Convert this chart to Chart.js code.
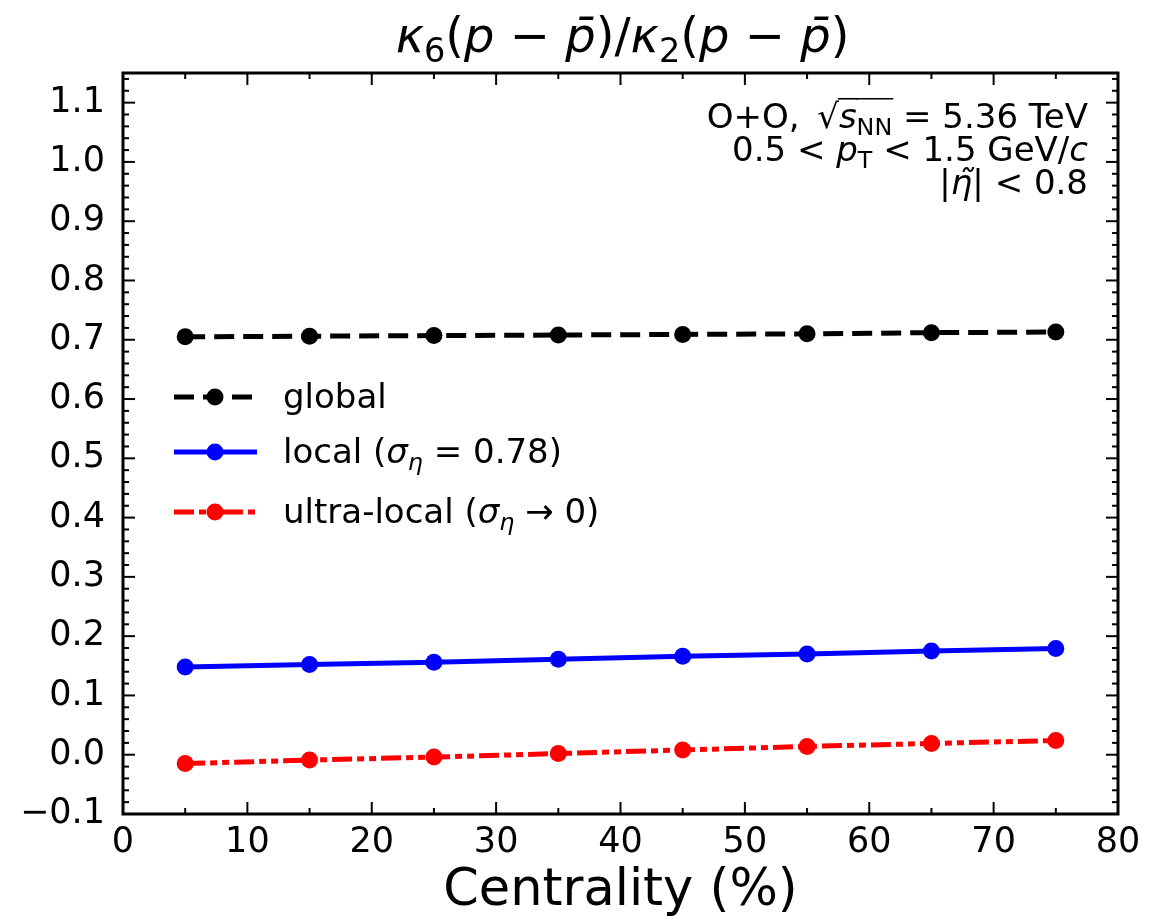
<!DOCTYPE html>
<html>
<head>
<meta charset="utf-8">
<script src="https://cdn.jsdelivr.net/npm/chart.js@4.4.1/dist/chart.umd.min.js"></script>
<style>
  html, body { margin: 0; padding: 0; background: #fff; }
  canvas { display: block; }
</style>
</head>
<body>
<canvas id="cumulantChart" width="1170" height="917"></canvas>
<script>
// centrality bins (%)
const centrality = [5, 15, 25, 35, 45, 55, 65, 75];
const globalVals = [0.705, 0.706, 0.707, 0.708, 0.709, 0.710, 0.712, 0.713];
const localVals = [0.148, 0.152, 0.156, 0.161, 0.166, 0.170, 0.175, 0.179];
const ultraLocalVals = [-0.015, -0.009, -0.004, 0.002, 0.008, 0.014, 0.019, 0.024];

const xTicks = [0, 10, 20, 30, 40, 50, 60, 70, 80];
const xMinorTicks = [5, 15, 25, 35, 45, 55, 65, 75];
const yTicks = [-0.1, 0, 0.1, 0.2, 0.3, 0.4, 0.5, 0.6, 0.7, 0.8, 0.9, 1.0, 1.1];

const FONT = '"DejaVu Sans", "Noto Sans", sans-serif';

function toPoints(vals) {
    return vals.map((v, i) => ({ x: centrality[i], y: v }));
}

// draws text made of pieces: italic, subscript, overline
function drawRich(ctx, segs, x, y, size, align) {
    const parts = segs.map(s => {
        const sz = s.sub ? size * 0.7 : size;
        const font = (s.it ? 'italic ' : '') + sz + 'px ' + FONT;
        ctx.font = font;
        return { s: s, font: font, sz: sz, w: ctx.measureText(s.t).width, dy: s.sub ? size * 0.2 : 0 };
    });
    const total = parts.reduce((a, p) => a + p.w, 0);
    let cx = align === 'right' ? x - total : (align === 'center' ? x - total / 2 : x);
    ctx.textAlign = 'left';
    ctx.textBaseline = 'alphabetic';
    parts.forEach(p => {
        ctx.font = p.font;
        ctx.fillText(p.s.t, cx, y + p.dy);
        if (p.s.over) {
            ctx.beginPath();
            ctx.lineWidth = 1.6;
            ctx.moveTo(cx - 1, y - size * 0.86);
            ctx.lineTo(cx + p.w + 1, y - size * 0.86);
            ctx.stroke();
        }
        cx += p.w;
    });
}

const series = [
    { label: 'global', data: globalVals, color: '#000000', dash: [20, 9] },
    { label: 'local', data: localVals, color: '#0000ff', dash: [] },
    { label: 'ultra-local', data: ultraLocalVals, color: '#ff0000', dash: [20, 5, 7, 5, 7, 5] }
];

const legendText = [
    [{ t: 'global' }],
    [{ t: 'local (' }, { t: 'σ', it: true }, { t: 'η', it: true, sub: true }, { t: ' = 0.78)' }],
    [{ t: 'ultra-local (' }, { t: 'σ', it: true }, { t: 'η', it: true, sub: true }, { t: ' → 0)' }]
];

const decorPlugin = {
    id: 'decor',
    afterDraw(chart) {
        const ctx = chart.ctx;
        const a = chart.chartArea;
        const xs = chart.scales.x, ys = chart.scales.y;
        ctx.save();
        ctx.strokeStyle = '#000';
        ctx.fillStyle = '#000';

        // ticks pointing inwards on all four sides
        ctx.lineWidth = 2;
        const tick = (x1, y1, x2, y2) => { ctx.beginPath(); ctx.moveTo(x1, y1); ctx.lineTo(x2, y2); ctx.stroke(); };
        xTicks.forEach(v => {
            const px = xs.getPixelForValue(v);
            tick(px, a.bottom, px, a.bottom - 12);
            tick(px, a.top, px, a.top + 12);
        });
        xMinorTicks.forEach(v => {
            const px = xs.getPixelForValue(v);
            tick(px, a.bottom, px, a.bottom - 6);
            tick(px, a.top, px, a.top + 6);
        });
        yTicks.forEach(v => {
            const py = ys.getPixelForValue(v);
            tick(a.left, py, a.left + 12, py);
            tick(a.right, py, a.right - 12, py);
        });
        for (let k = -5; k <= 57; k++) {
            if (k % 5 === 0) continue;
            const py = ys.getPixelForValue(k * 0.02);
            tick(a.left, py, a.left + 6, py);
            tick(a.right, py, a.right - 6, py);
        }

        // frame
        ctx.lineWidth = 3;
        ctx.strokeRect(a.left, a.top, a.right - a.left, a.bottom - a.top);

        // title
        drawRich(ctx, [
            { t: 'κ', it: true }, { t: '6', sub: true }, { t: '(' }, { t: 'p', it: true }, { t: ' − ' },
            { t: 'p\u0304', it: true }, { t: ')/' }, { t: 'κ', it: true }, { t: '2', sub: true }, { t: '(' },
            { t: 'p', it: true }, { t: ' − ' }, { t: 'p\u0304', it: true }, { t: ')' }
        ], (a.left + a.right) / 2 + 2, 52, 48, 'center');

        // x axis title
        drawRich(ctx, [{ t: 'Centrality (%)' }], (a.left + a.right) / 2, 905, 51, 'center');

        // annotation
        drawRich(ctx, [{ t: 'O+O, \u2009√' }, { t: 's', it: true, over: true }, { t: 'NN', sub: true, over: true }, { t: ' = 5.36 TeV' }], 1088, 128, 34, 'right');
        drawRich(ctx, [{ t: '0.5 < ' }, { t: 'p', it: true }, { t: 'T', sub: true }, { t: ' < 1.5 GeV/' }, { t: 'c', it: true }], 1088, 161, 34, 'right');
        drawRich(ctx, [{ t: '|' }, { t: 'η\u0303', it: true }, { t: '| < 0.8' }], 1088, 194, 34, 'right');

        // legend
        const rows = [397, 452, 512];
        series.forEach((s, i) => {
            const y = rows[i];
            ctx.strokeStyle = s.color;
            ctx.fillStyle = s.color;
            ctx.lineWidth = 5;
            ctx.setLineDash(s.dash);
            ctx.beginPath();
            ctx.moveTo(174, y);
            ctx.lineTo(257, y);
            ctx.stroke();
            ctx.setLineDash([]);
            ctx.beginPath();
            ctx.arc(215, y, 8.5, 0, Math.PI * 2);
            ctx.fill();
            ctx.fillStyle = '#000';
            drawRich(ctx, legendText[i], 283, y + 11, 34, 'left');
        });
        ctx.restore();
    }
};

new Chart(document.getElementById('cumulantChart'), {
    type: 'line',
    data: {
        datasets: series.map(s => ({
            label: s.label,
            data: toPoints(s.data),
            borderColor: s.color,
            backgroundColor: s.color,
            borderWidth: 5,
            borderDash: s.dash,
            pointRadius: 8.5,
            pointBorderWidth: 0,
            pointBackgroundColor: s.color,
            tension: 0,
            fill: false
        }))
    },
    options: {
        responsive: false,
        animation: false,
        layout: { padding: { top: 73, right: 52, left: 0, bottom: 0 } },
        plugins: {
            legend: { display: false },
            title: { display: false },
            tooltip: { enabled: false }
        },
        scales: {
            x: {
                type: 'linear',
                min: 0,
                max: 80,
                grid: { display: false },
                border: { display: false },
                afterFit(scale) { scale.height = 103; },
                afterBuildTicks(scale) { scale.ticks = xTicks.map(v => ({ value: v })); },
                ticks: {
                    padding: 0,
                    color: '#000',
                    maxRotation: 0,
                    font: { family: FONT, size: 35 },
                    callback: v => String(v)
                }
            },
            y: {
                type: 'linear',
                min: -0.1,
                max: 1.15,
                grid: { display: false },
                border: { display: false },
                afterFit(scale) { scale.width = 123; },
                afterBuildTicks(scale) { scale.ticks = yTicks.map(v => ({ value: v })); },
                ticks: {
                    padding: 10,
                    color: '#000',
                    font: { family: FONT, size: 35 },
                    callback: v => v.toFixed(1).replace('-', '−')
                }
            }
        }
    },
    plugins: [decorPlugin]
});
</script>
</body>
</html>
